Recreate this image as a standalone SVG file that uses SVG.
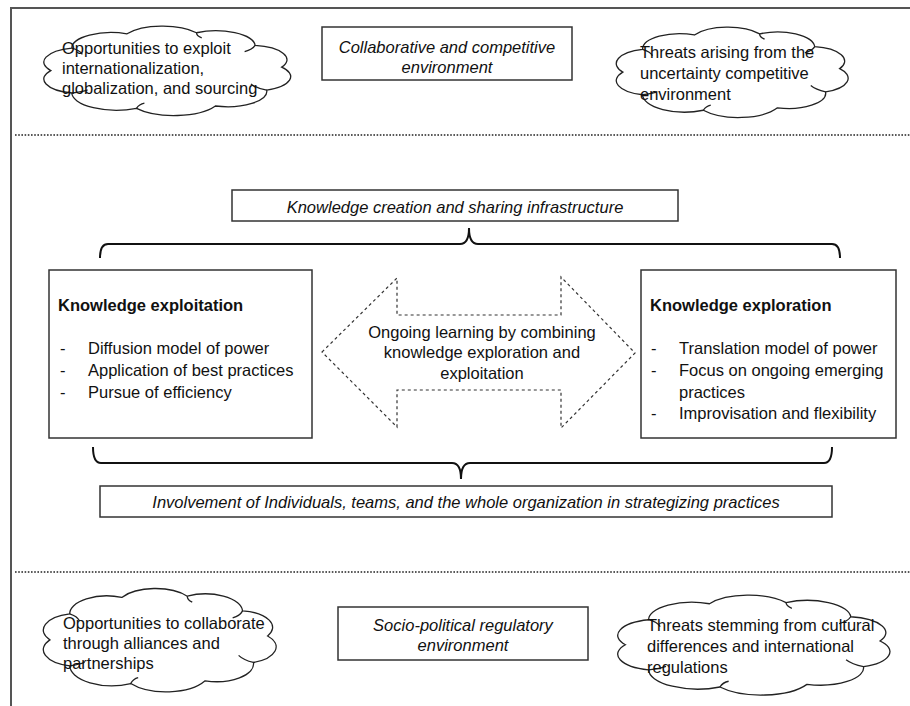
<svg xmlns="http://www.w3.org/2000/svg" xmlns:xlink="http://www.w3.org/1999/xlink" width="910" height="706" viewBox="0 0 910 706">
<style>
text{font-family:"Liberation Sans",Arial,sans-serif;font-size:16.5px;fill:#111}
.it{font-style:italic}
.b{font-weight:bold}
.mid{text-anchor:middle}
.box{fill:#fff;stroke:#333;stroke-width:1.5}
.frame{fill:none;stroke:#555;stroke-width:2}
.dots{fill:none;stroke:#222;stroke-width:1.6;stroke-dasharray:1.6 1.6}
.brace{fill:none;stroke:#111;stroke-width:2}
.darrow{fill:#fff;stroke:#333;stroke-width:1.2;stroke-dasharray:3 3}
.cl{fill:#fff;stroke:#222;stroke-width:1.3;vector-effect:non-scaling-stroke}
.curl{fill:none;stroke:#222;stroke-width:1.3;vector-effect:non-scaling-stroke}
</style>
<defs>
<g id="cloud">
<path class="cl" d="M6,52 A14,14 0 0 1 14,30.2 A15,15 0 0 1 35,16.3 A16,16 0 0 1 61.4,15.3 A15,15 0 0 1 83.7,27.6 A14,14 0 0 1 93.8,48.7 A14,14 0 0 1 88.1,71 A15,15 0 0 1 68.6,86.4 A18,18 0 0 1 38.6,88.7 A17,17 0 0 1 14,73.8 A14,14 0 0 1 6,52 Z"/>
<path class="curl" d="M14,30.2 q3,2 4,6 M61.4,15.3 q0,3 2,5 M83.7,27.6 q-1,4 -4,6 M88.1,71 q-4,-2 -6,-6 M38.6,88.7 q1,-4 3,-5 M14,73.8 q4,-1 6,-3"/>
</g>
</defs>
<rect width="910" height="706" fill="#fff"/>
<g id="frame">
<path class="frame" d="M10,8 H910 M11,8 V706"/>
<path class="dots" d="M15,135 H910 M15,572 H910"/>
</g>
<g id="connectors">
<path class="brace" d="M100,258 Q100,244 108,244 L460,244 Q469,244 469,228 Q469,244 478,244 L832,244 Q840,244 840,258"/>
<path class="brace" d="M93,447 Q93,463 101,463 L452,463 Q461,463 461,479 Q461,463 470,463 L824,463 Q832,463 832,447"/>
</g>
<g id="cloud-opportunities-exploit">
<use xlink:href="#cloud" href="#cloud" transform="translate(35,17) scale(2.63,1.03)"/>
<text x="62" y="54">Opportunities to exploit</text>
<text x="62" y="74">internationalization,</text>
<text x="62" y="94">globalization, and sourcing</text>
</g>
<g id="box-collaborative">
<rect class="box" x="322" y="27" width="250" height="53"/>
<text class="it mid" x="447" y="53">Collaborative and competitive</text>
<text class="it mid" x="447" y="73">environment</text>
</g>
<g id="cloud-threats-uncertainty">
<use xlink:href="#cloud" href="#cloud" transform="translate(608,18) scale(2.47,1.04)"/>
<text x="640" y="58">Threats arising from the</text>
<text x="640" y="79">uncertainty competitive</text>
<text x="640" y="100">environment</text>
</g>
<g id="box-knowledge-creation">
<rect class="box" x="232" y="190" width="446" height="31"/>
<text class="it mid" x="455" y="213">Knowledge creation and sharing infrastructure</text>
</g>
<g id="box-exploitation">
<rect class="box" x="49" y="270" width="263" height="168"/>
<text class="b" x="58" y="311">Knowledge exploitation</text>
<text x="60" y="354">-</text><text x="88" y="354">Diffusion model of power</text>
<text x="60" y="376">-</text><text x="88" y="376">Application of best practices</text>
<text x="60" y="398">-</text><text x="88" y="398">Pursue of efficiency</text>
</g>
<g id="arrow-ongoing-learning">
<path class="darrow" d="M322,352 L397,278 L397,315 L561,315 L561,277 L635,353 L561,428 L561,390 L397,390 L397,427 Z"/>
<text class="mid" x="482" y="338">Ongoing learning by combining</text>
<text class="mid" x="482" y="358">knowledge exploration and</text>
<text class="mid" x="482" y="379">exploitation</text>
</g>
<g id="box-exploration">
<rect class="box" x="641" y="270" width="255" height="168"/>
<text class="b" x="650" y="311">Knowledge exploration</text>
<text x="651" y="354">-</text><text x="679" y="354">Translation model of power</text>
<text x="651" y="376">-</text><text x="679" y="376">Focus on ongoing emerging</text>
<text x="679" y="398">practices</text>
<text x="651" y="419">-</text><text x="679" y="419">Improvisation and flexibility</text>
</g>
<g id="box-involvement">
<rect class="box" x="100" y="486" width="732" height="31"/>
<text class="it mid" x="466" y="508">Involvement of Individuals, teams, and the whole organization in strategizing practices</text>
</g>
<g id="cloud-opportunities-collaborate">
<use xlink:href="#cloud" href="#cloud" transform="translate(35,578) scale(2.48,1.19)"/>
<text x="63" y="629">Opportunities to collaborate</text>
<text x="63" y="649">through alliances and</text>
<text x="63" y="669">partnerships</text>
</g>
<g id="box-socio-political">
<rect class="box" x="338" y="607" width="250" height="53"/>
<text class="it mid" x="463" y="631">Socio-political regulatory</text>
<text class="it mid" x="463" y="651">environment</text>
</g>
<g id="cloud-threats-cultural">
<use xlink:href="#cloud" href="#cloud" transform="translate(608,585) scale(2.90,1.15)"/>
<text x="647" y="631">Threats stemming from cultural</text>
<text x="647" y="652">differences and international</text>
<text x="647" y="673">regulations</text>
</g>
</svg>
